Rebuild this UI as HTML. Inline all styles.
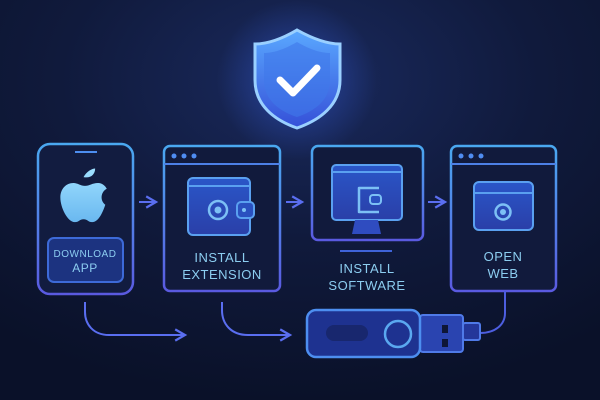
<!DOCTYPE html>
<html><head><style>body{margin:0;background:#0c1530}svg{display:block}text{font-family:"Liberation Sans",sans-serif;font-weight:normal;letter-spacing:0.5px;fill:#8ccdf0;text-anchor:middle}</style></head><body>
<svg width="600" height="400" viewBox="0 0 600 400" xmlns="http://www.w3.org/2000/svg">
<defs>
<radialGradient id="bg" cx="0.5" cy="0.2" r="0.8"><stop offset="0" stop-color="#1a2a5e"/><stop offset="0.5" stop-color="#101a3c"/><stop offset="1" stop-color="#0a1129"/></radialGradient>
<radialGradient id="glow" cx="0.5" cy="0.5" r="0.5"><stop offset="0" stop-color="#3c6bff" stop-opacity="0.45"/><stop offset="1" stop-color="#3c6bff" stop-opacity="0"/></radialGradient>
<linearGradient id="sh" x1="0" y1="0" x2="0" y2="1"><stop offset="0" stop-color="#5aa8ff"/><stop offset="1" stop-color="#3550d8"/></linearGradient>
<linearGradient id="st" x1="0" y1="0" x2="0" y2="1"><stop offset="0" stop-color="#4aa8f0"/><stop offset="1" stop-color="#5a5ae0"/></linearGradient>
<linearGradient id="fill" x1="0" y1="0" x2="0" y2="1"><stop offset="0" stop-color="#2a56c8"/><stop offset="1" stop-color="#2a3fa8"/></linearGradient>
<linearGradient id="ap" x1="0" y1="0" x2="0" y2="1"><stop offset="0" stop-color="#9fe0ff"/><stop offset="1" stop-color="#6ab8f0"/></linearGradient>
<marker id="ah" viewBox="0 0 10 10" refX="8" refY="5" markerWidth="7" markerHeight="7" orient="auto"><path d="M1 1L8 5L1 9" fill="none" stroke="#5a6ef0" stroke-width="1.6"/></marker>
</defs>
<rect width="600" height="400" fill="url(#bg)"/>
<circle cx="297" cy="80" r="80" fill="url(#glow)"/>
<path d="M297 30 C315 40 328 44 340 44 L340 80 C340 105 320 120 297 128 C274 120 255 105 255 80 L255 44 C267 44 280 40 297 30Z" fill="url(#sh)" stroke="#9ad0ff" stroke-width="3"/>
<path d="M297 42 C311 50 321 53 330 53 L330 80 C330 100 315 111 297 117 C279 111 264 100 264 80 L264 53 C273 53 283 50 297 42Z" fill="#3f78ea" opacity="0.6"/>
<path d="M280 80 L293 93 L317 68" fill="none" stroke="#fff" stroke-width="7" stroke-linecap="round" stroke-linejoin="round"/>
<g fill="none" stroke="url(#st)" stroke-width="2.5">
<rect x="38" y="144" width="95" height="150" rx="12" fill="#121c40"/>
<rect x="164" y="146" width="116" height="145" rx="6" fill="#111a3c"/>
<rect x="312" y="146" width="111" height="94" rx="6" fill="#111a3c"/>
<rect x="451" y="146" width="105" height="145" rx="6" fill="#111a3c"/>
</g>
<line x1="75" y1="152" x2="97" y2="152" stroke="#4d8ef0" stroke-width="2"/>
<g transform="translate(85,196) scale(1.45) translate(-86,-195)">
<path d="M85 182c2-4 6-6 8-6c0 4-3 7-8 6zM78 186c3 0 5 2 8 2c3 0 5-2 9-2c3 0 5 2 6 4c-4 2-5 8-1 11c-2 6-5 12-9 12c-3 0-3-2-6-2s-3 2-6 2c-5 0-10-10-10-17c0-6 4-10 9-10z" fill="url(#ap)"/></g>
<rect x="48" y="238" width="75" height="44" rx="6" fill="#1c3380" stroke="#3d6ad8" stroke-width="2"/>
<text x="85" y="257" font-size="10">DOWNLOAD</text><text x="85" y="272" font-size="12">APP</text>
<line x1="164" y1="164" x2="280" y2="164" stroke="#4d80e6" stroke-width="2"/>
<line x1="451" y1="164" x2="556" y2="164" stroke="#4d80e6" stroke-width="2"/>
<g fill="#4f8cf0"><circle cx="174" cy="156" r="2.5"/><circle cx="184" cy="156" r="2.5"/><circle cx="194" cy="156" r="2.5"/><circle cx="461" cy="156" r="2.5"/><circle cx="471" cy="156" r="2.5"/><circle cx="481" cy="156" r="2.5"/></g>
<rect x="188" y="178" width="62" height="57" rx="5" fill="url(#fill)" stroke="#5aa0f0" stroke-width="2"/>
<line x1="188" y1="186" x2="250" y2="186" stroke="#5aa0f0" stroke-width="2"/>
<circle cx="218" cy="210" r="9" fill="none" stroke="#7cc0f5" stroke-width="2.5"/><circle cx="218" cy="210" r="3.5" fill="#7cc0f5"/>
<rect x="237" y="202" width="17" height="16" rx="4" fill="#2a50c0" stroke="#5aa0f0" stroke-width="2"/><circle cx="244" cy="210" r="2" fill="#7cc0f5"/>
<text x="222" y="262" font-size="13">INSTALL</text><text x="222" y="279" font-size="13">EXTENSION</text>
<rect x="332" y="165" width="70" height="55" rx="4" fill="url(#fill)" stroke="#5aa0f0" stroke-width="2"/>
<line x1="332" y1="172" x2="402" y2="172" stroke="#5aa0f0" stroke-width="2"/>
<path d="M355 220h23l3 14h-29z" fill="#2f4cc0"/>
<path d="M379 188h-20v24h20" fill="none" stroke="#7cc0f5" stroke-width="2.5" stroke-linejoin="round"/>
<rect x="370" y="195" width="11" height="9" rx="3" fill="#2a50c0" stroke="#7cc0f5" stroke-width="2"/>
<line x1="340" y1="251" x2="392" y2="251" stroke="#3f63d8" stroke-width="2"/>
<text x="367" y="273" font-size="13">INSTALL</text><text x="367" y="290" font-size="13">SOFTWARE</text>
<rect x="474" y="182" width="59" height="48" rx="5" fill="url(#fill)" stroke="#5aa0f0" stroke-width="2"/>
<line x1="474" y1="193" x2="533" y2="193" stroke="#5aa0f0" stroke-width="2"/>
<circle cx="503" cy="212" r="7.5" fill="none" stroke="#7cc0f5" stroke-width="2.5"/><circle cx="503" cy="212" r="3" fill="#7cc0f5"/>
<text x="503" y="261" font-size="13">OPEN</text><text x="503" y="278" font-size="13">WEB</text>
<g stroke="#5a6ef0" stroke-width="2" fill="none" marker-end="url(#ah)">
<line x1="139" y1="202" x2="156" y2="202"/><line x1="286" y1="202" x2="302" y2="202"/><line x1="428" y1="202" x2="445" y2="202"/>
<path d="M85 302v10c0 12 8 23 24 23h76"/>
<path d="M222 302v8c0 14 9 25 26 25h42"/>
</g>
<path d="M505 291v22c0 12-10 20-25 20" fill="none" stroke="#4d5ee0" stroke-width="2"/>
<rect x="420" y="315" width="43" height="37" rx="3" fill="#2a44b0" stroke="#4f7ae8" stroke-width="2"/>
<rect x="463" y="323" width="17" height="17" rx="2" fill="#24379a" stroke="#4f7ae8" stroke-width="2"/>
<rect x="442" y="325" width="6" height="8" fill="#0e1636"/><rect x="442" y="339" width="6" height="8" fill="#0e1636"/>
<rect x="307" y="310" width="113" height="47" rx="9" fill="#1e3290" stroke="#4d8ef0" stroke-width="2.5"/>
<rect x="326" y="325" width="42" height="16" rx="8" fill="#18276e"/>
<circle cx="398" cy="334" r="13" fill="none" stroke="#5aa8f0" stroke-width="2.5"/>
</svg>
</body></html>
